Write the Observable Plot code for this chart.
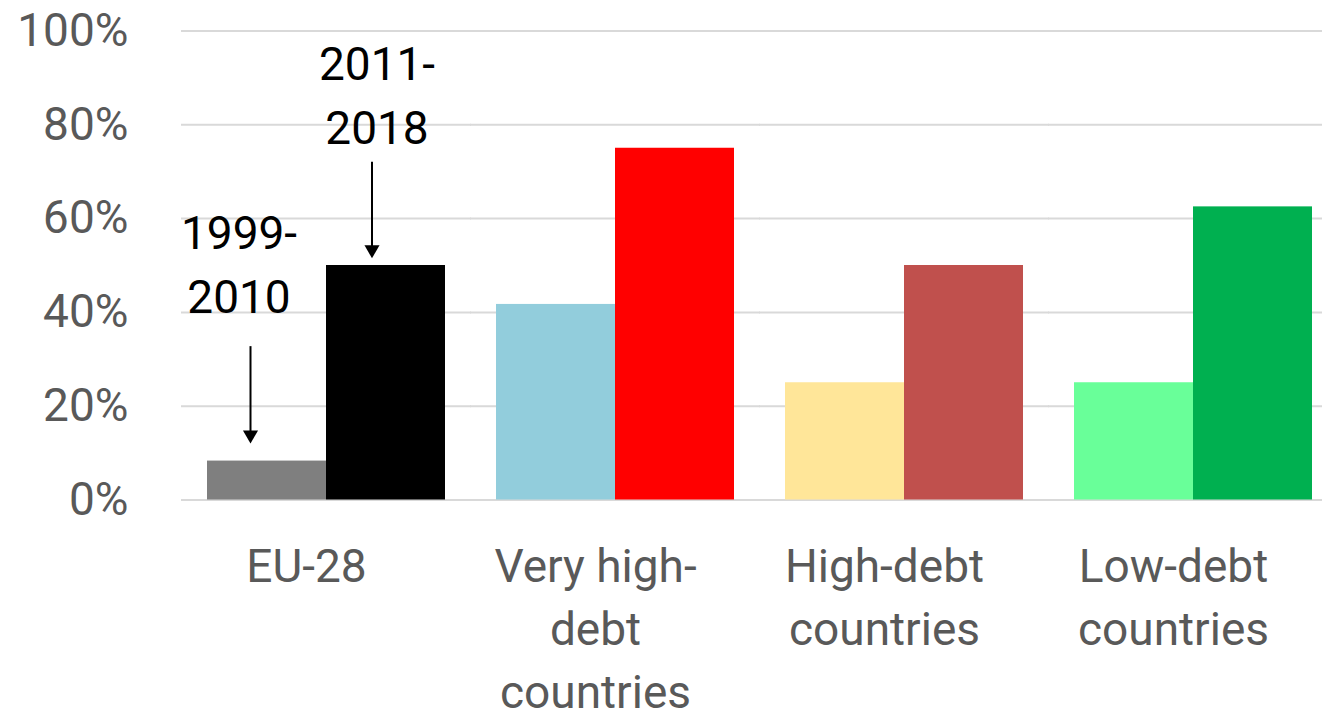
<!DOCTYPE html>
<html>
<head>
<meta charset="utf-8">
<script src="https://cdn.jsdelivr.net/npm/d3@7"></script>
<script src="https://cdn.jsdelivr.net/npm/@observablehq/plot@0.6"></script>
<style>
  html, body { margin: 0; padding: 0; background: #ffffff; }
  #chart svg { display: block; }
</style>
</head>
<body>
<div id="chart"></div>
<script>
// ---- data ----
const groups = ["EU-28", "Very high-debt countries", "High-debt countries", "Low-debt countries"];
const groupLabels = ["EU-28", "Very high-\ndebt\ncountries", "High-debt\ncountries", "Low-debt\ncountries"];
const periods = ["1999-2010", "2011-2018"];
const share1999_2010 = [8.3, 41.7, 25, 25];
const share2011_2018 = [50, 75, 50, 62.5];
const colors1999_2010 = ["#7f7f7f", "#92cddc", "#ffe699", "#69ff99"];
const colors2011_2018 = ["#000000", "#ff0000", "#c0504d", "#00b050"];
const yTicks = [0, 20, 40, 60, 80, 100];

// annotation (period labels with arrows, in EU-28 group)
const annotationText = ["1999-\n2010", "2011-\n2018"];
const annotationTextY = [51, 87];
const arrowStartY = [32.7, 72];
const arrowHeadY = [13.9, 53.4];

const bars = groups.flatMap((g, i) => [
  {group: g, period: periods[0], value: share1999_2010[i], color: colors1999_2010[i]},
  {group: g, period: periods[1], value: share2011_2018[i], color: colors2011_2018[i]}
]);
const annots = periods.map((p, i) => ({
  group: groups[0], period: p, text: annotationText[i],
  ty: annotationTextY[i], y1: arrowStartY[i], y2: arrowHeadY[i]
}));

const font = "Roboto, 'Liberation Sans', sans-serif";

const chart = Plot.plot({
  width: 1322,
  height: 718,
  marginLeft: 180,
  marginRight: -16,
  marginTop: 30.5,
  marginBottom: 218.5,
  style: {fontFamily: font, background: "#ffffff"},
  fx: {domain: groups, paddingInner: 0.178, paddingOuter: 0.09},
  x: {domain: periods, padding: 0, axis: null},
  y: {domain: [0, 100]},
  color: {type: "identity"},
  marks: [
    Plot.ruleY(yTicks, {stroke: "#d9d9d9", strokeWidth: 2, insetLeft: -26, insetRight: -26}),
    Plot.barY(bars, {fx: "group", x: "period", y: "value", fill: "color"}),
    Plot.axisY({ticks: yTicks, tickSize: 0, tickPadding: 79, tickFormat: d => d + "%",
      fontSize: 46, fill: "#595959", label: null}),
    Plot.axisFx({anchor: "bottom", tickSize: 0, tickPadding: 37, label: null,
      tickFormat: g => groupLabels[groups.indexOf(g)],
      fontSize: 46, lineHeight: 1.37, fill: "#595959", dx: -20}),
    // annotation 1999-2010
    Plot.text([annots[0]], {fx: "group", x: "period", y: "ty", text: "text",
      fontSize: 46, lineHeight: 1.39, fill: "#000000", dx: -28}),
    Plot.ruleX([annots[0]], {fx: "group", x: "period", y1: "y1", y2: "y2",
      stroke: "#000000", strokeWidth: 2, dx: -16.5}),
    Plot.dot([annots[0]], {fx: "group", x: "period", y: "y2", symbol: "triangle",
      rotate: 180, r: 5.6, fill: "#000000", stroke: "none", dx: -16.5}),
    // annotation 2011-2018
    Plot.text([annots[1]], {fx: "group", x: "period", y: "ty", text: "text",
      fontSize: 46, lineHeight: 1.39, fill: "#000000", dx: -9}),
    Plot.ruleX([annots[1]], {fx: "group", x: "period", y1: "y1", y2: "y2",
      stroke: "#000000", strokeWidth: 2, dx: -14}),
    Plot.dot([annots[1]], {fx: "group", x: "period", y: "y2", symbol: "triangle",
      rotate: 180, r: 5.6, fill: "#000000", stroke: "none", dx: -14})
  ]
});
document.getElementById("chart").appendChild(chart);
</script>
</body>
</html>
